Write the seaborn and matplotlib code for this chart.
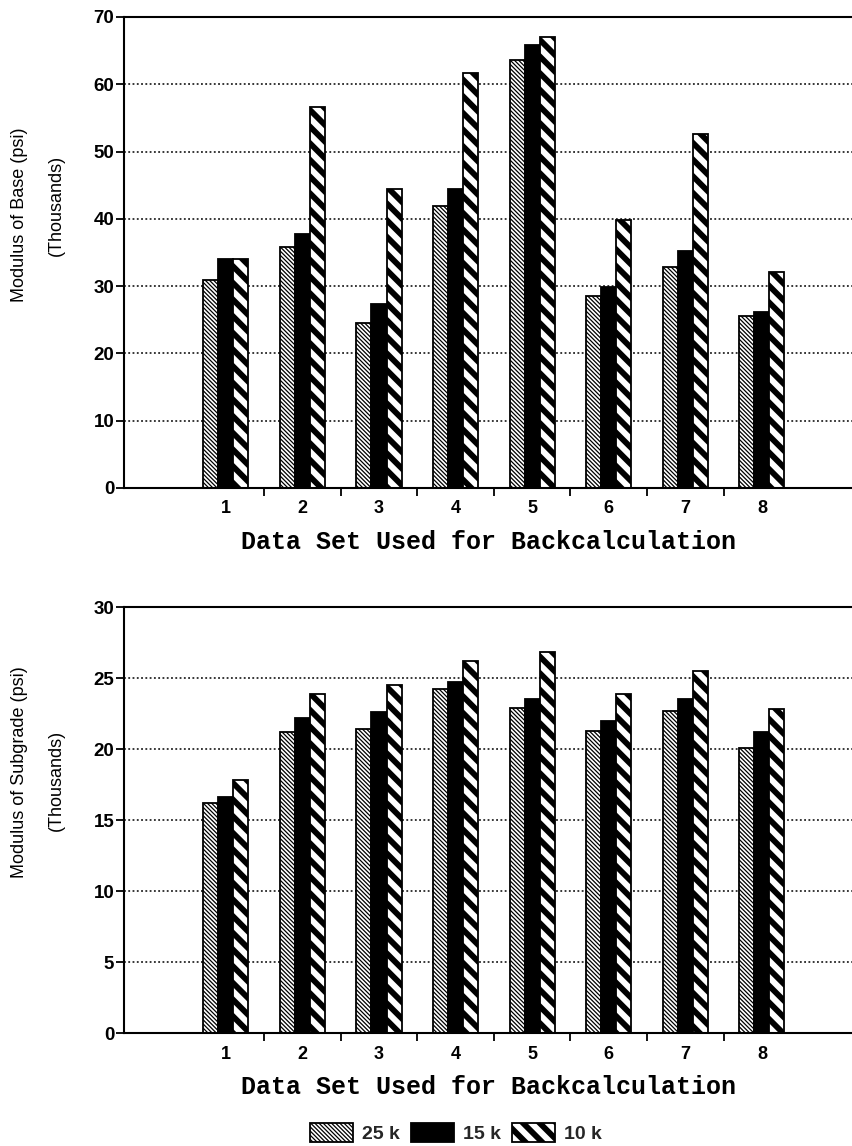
import matplotlib
matplotlib.use("Agg")
import matplotlib.pyplot as plt
from matplotlib.patches import Patch
import numpy as np
import pandas as pd
import seaborn as sns

# Data sets used for backcalculation
data_sets = ["1", "2", "3", "4", "5", "6", "7", "8"]
loads = ["25 k", "15 k", "10 k"]

# Modulus of base (thousands of psi)
base_25k = [30.9, 35.8, 24.5, 41.9, 63.6, 28.6, 32.9, 25.5]
base_15k = [34.0, 37.7, 27.4, 44.5, 65.9, 29.8, 35.2, 26.1]
base_10k = [34.0, 56.6, 44.4, 61.7, 67.0, 39.8, 52.6, 32.1]

# Modulus of subgrade (thousands of psi)
sub_25k = [16.2, 21.2, 21.4, 24.2, 22.9, 21.3, 22.7, 20.1]
sub_15k = [16.6, 22.2, 22.6, 24.7, 23.5, 22.0, 23.5, 21.2]
sub_10k = [17.8, 23.9, 24.5, 26.2, 26.8, 23.9, 25.5, 22.8]

base_ticks = [0, 10, 20, 30, 40, 50, 60, 70]
sub_ticks = [0, 5, 10, 15, 20, 25, 30]


def long_frame(a, b, c):
    rows = []
    for load, vals in zip(loads, (a, b, c)):
        for s, v in zip(data_sets, vals):
            rows.append({"set": s, "load": load, "value": v})
    return pd.DataFrame(rows)


sns.set_theme(style="white")
plt.rcParams["font.family"] = ["Liberation Sans", "DejaVu Sans"]

# fill style per load: (hatch, facecolor, hatch linewidth)
styles = {
    "25 k": ("\\" * 8, "white", 0.9),
    "15 k": ("", "black", 1.0),
    "10 k": ("\\\\", "white", 4.2),
}


def style_patch(p, load):
    hatch, fc, hlw = styles[load]
    p.set_facecolor(fc)
    p.set_edgecolor("black")
    p.set_linewidth(1.3)
    if hatch:
        p.set_hatch(hatch)
        if hasattr(p, "set_hatch_linewidth"):
            p.set_hatch_linewidth(hlw)


fig = plt.figure(figsize=(8.53, 11.46), dpi=100)
ax_top = fig.add_axes([0.1454, 0.5742, 1.0 - 0.1454, 0.4110])
ax_bot = fig.add_axes([0.1454, 0.0986, 1.0 - 0.1454, 0.3717])

mono = dict(family=["Liberation Mono", "DejaVu Sans Mono"], weight="bold", size=18)

for ax, (a, b, c), ticks in (
    (ax_top, (base_25k, base_15k, base_10k), base_ticks),
    (ax_bot, (sub_25k, sub_15k, sub_10k), sub_ticks),
):
    df = long_frame(a, b, c)
    sns.barplot(data=df, x="set", y="value", hue="load", hue_order=loads,
                order=data_sets, width=0.59, errorbar=None, legend=False, ax=ax,
                saturation=1)
    for cont, load in zip(ax.containers, loads):
        for p in cont.patches:
            style_patch(p, load)

    ax.set_xlim(-1.33, 8.19)
    ax.set_ylim(ticks[0], ticks[-1])
    ax.set_yticks(ticks)
    ax.set_xticks(range(len(data_sets)))
    ax.set_xticklabels(data_sets)
    ax.set_xticks(np.arange(0.5, len(data_sets) - 1, 1.0), minor=True)
    ax.tick_params(axis="x", which="major", length=0, pad=9, labelsize=13)
    ax.tick_params(axis="x", which="minor", length=6, width=1.3, direction="out",
                   color="black", bottom=True)
    ax.tick_params(axis="y", which="major", length=6, width=1.3, direction="out",
                   color="black", left=True, pad=1, labelsize=13.5)
    for lab in ax.get_xticklabels() + ax.get_yticklabels():
        lab.set_fontweight("bold")
        lab.set_color("black")

    ax.set_axisbelow(True)
    ax.yaxis.grid(True, color="black", linestyle=(0, (1.2, 1.6)), linewidth=1.1)
    ax.xaxis.grid(False)
    for side in ("left", "bottom", "top"):
        ax.spines[side].set_visible(True)
        ax.spines[side].set_color("black")
        ax.spines[side].set_linewidth(1.5)
    ax.spines["right"].set_visible(False)

    ax.set_xlabel("Data Set Used for Backcalculation", fontdict=mono, labelpad=9,
                  color="black")
    ax.set_ylabel("")

# y-axis captions, two separate lines
cap = dict(rotation=90, ha="center", va="center", fontsize=13, color="black")
fig.text(20 / 853, 1 - 215 / 1146, "Modulus of Base (psi)", **cap)
fig.text(56 / 853, 1 - 205 / 1146, "(Thousands)", **cap)
fig.text(20 / 853, 1 - 772 / 1146, "Modulus of Subgrade (psi)", **cap)
fig.text(56 / 853, 1 - 780 / 1146, "(Thousands)", **cap)

handles = [Patch(label=load) for load in loads]
for h, load in zip(handles, loads):
    style_patch(h, load)
leg = fig.legend(handles=handles, loc="center", bbox_to_anchor=(456 / 853, 1 - 1133 / 1146),
                 ncol=3, frameon=False, handlelength=2.2, handleheight=1.1,
                 handletextpad=0.45, columnspacing=0.6, borderaxespad=0,
                 prop=dict(weight="bold", size=14))
for p, load in zip(leg.get_patches(), loads):
    style_patch(p, load)

fig.savefig("out.png", dpi=100)
